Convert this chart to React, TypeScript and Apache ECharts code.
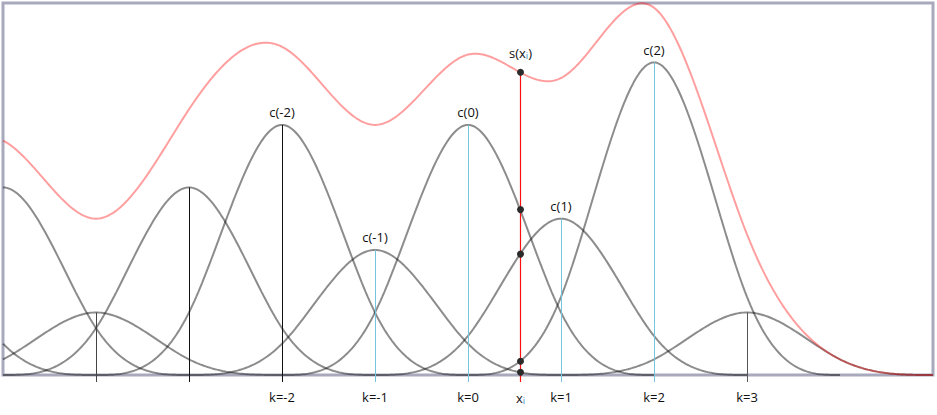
import React, { useEffect, useRef } from "react";
import * as echarts from "echarts";

// B-spline coefficients (peak heights of each scaled basis function)
const knots = [-6, -5, -4, -3, -2, -1, 0, 1, 2, 3];
const coeffs = [0.4, 0.6, 0.2, 0.6, 0.8, 0.4, 0.8, 0.5, 1.0, 0.2];
const tickKnots = [-2, -1, 0, 1, 2, 3];
const coeffLabelKnots = [-2, -1, 0, 1, 2];
const stemKnots = [-4, -3, -2, -1, 0, 1, 2, 3];
const sampleX = 0.56;
const xMin = -5;
const xMax = 5;
const yMax = 1.19;

// cubic B-spline normalised so that basis(0) = 1
function basis(t: number): number {
  const a = Math.abs(t);
  if (a >= 2) return 0;
  if (a >= 1) return Math.pow(2 - a, 3) / 4;
  return 1 - 1.5 * a * a + 0.75 * a * a * a;
}

const STEP = 0.02;
function range(a: number, b: number): number[] {
  const out: number[] = [];
  const n = Math.round((b - a) / STEP);
  for (let i = 0; i <= n; i++) out.push(a + i * STEP);
  return out;
}

function stemColor(k: number): string {
  if (k === -4) return "#444";
  if (k <= -2) return "#111";
  if (k === 3) return "#555";
  return "#74c6dc";
}

const FONT = "'Open Sans', 'DejaVu Sans', sans-serif";

export default function App() {
  const ref = useRef<HTMLDivElement>(null);
  useEffect(() => {
    if (!ref.current) return;
    const chart = echarts.init(ref.current, undefined, { renderer: "svg" });

    const basisSeries = knots.map((k, i) => ({
      type: "line",
      silent: true,
      showSymbol: false,
      smooth: false,
      clip: true,
      z: 2,
      lineStyle: { color: "rgba(0,0,0,0.45)", width: 2 },
      data: range(Math.max(k - 2, xMin), Math.min(k + 2, xMax)).map((x) => [
        x,
        coeffs[i] * basis(x - k),
      ]),
    }));

    const sumOf = (x: number) =>
      knots.reduce((s, k, i) => s + coeffs[i] * basis(x - k), 0);

    const sumSeries = {
      type: "line",
      silent: true,
      showSymbol: false,
      clip: true,
      z: 3,
      lineStyle: { color: "rgba(255,0,0,0.38)", width: 2 },
      data: range(xMin, xMax).map((x) => [x, sumOf(x)]),
    };

    const stemData = stemKnots.map((k) => [k, coeffs[knots.indexOf(k)]]);
    const stemSeries = {
      type: "custom",
      silent: true,
      z: 4,
      data: stemData,
      renderItem: (params: any, api: any) => {
        const k = api.value(0);
        const c = api.value(1);
        const top = api.coord([k, c]);
        const base = api.coord([k, 0]);
        const x = Math.round(top[0]) + 0.5;
        const children: any[] = [
          {
            type: "line",
            shape: { x1: x, y1: top[1], x2: x, y2: base[1] + 7 },
            style: { stroke: stemColor(k), lineWidth: 1 },
          },
        ];
        if (coeffLabelKnots.includes(k)) {
          children.push({
            type: "text",
            x: top[0],
            y: top[1] - 6,
            style: {
              text: "c(" + k + ")",
              fill: "#111",
              font: "13px " + FONT,
              textAlign: "center",
              textVerticalAlign: "bottom",
            },
          });
        }
        return { type: "group", children };
      },
    };

    const sampleData = [[sampleX, sumOf(sampleX)]];
    const richStyles = {
      a: { fontSize: 13, fontFamily: FONT, fill: "#111", color: "#111" },
      b: { fontSize: 9, fontFamily: FONT, fill: "#2a7fc0", color: "#2a7fc0", padding: [6, 0, 0, 0] },
    };
    const sampleSeries = {
      type: "custom",
      silent: true,
      z: 6,
      data: sampleData,
      renderItem: (params: any, api: any) => {
        const x0 = api.value(0);
        const s = api.value(1);
        const top = api.coord([x0, s]);
        const base = api.coord([x0, 0]);
        const lx = Math.round(top[0]) + 0.5;
        const children: any[] = [
          {
            type: "line",
            shape: { x1: lx, y1: top[1], x2: lx, y2: base[1] + 7 },
            style: { stroke: "#ff1010", lineWidth: 1.2 },
          },
        ];
        const ys = [s];
        knots.forEach((k, i) => {
          const v = coeffs[i] * basis(x0 - k);
          if (v > 0.001) ys.push(v);
        });
        ys.forEach((v) => {
          const p = api.coord([x0, v]);
          children.push({
            type: "circle",
            shape: { cx: lx, cy: p[1], r: 3.5 },
            style: { fill: "#2b2b2b" },
          });
        });
        children.push({
          type: "text",
          x: lx,
          y: top[1] - 12,
          style: {
            text: "{a|s(x}{b|i}{a|)}",
            textAlign: "center",
            textVerticalAlign: "bottom",
            rich: richStyles,
          },
        });
        children.push({
          type: "text",
          x: lx,
          y: base[1] + 15,
          style: {
            text: "{a|x}{b|i}",
            textAlign: "center",
            textVerticalAlign: "top",
            rich: richStyles,
          },
        });
        return { type: "group", children };
      },
    };

    chart.setOption({
      animation: false,
      backgroundColor: "#ffffff",
      grid: {
        left: 3,
        right: 4,
        top: 3,
        bottom: 40,
        show: true,
        borderColor: "#a9a9be",
        borderWidth: 3,
      },
      xAxis: {
        type: "value",
        min: xMin,
        max: xMax,
        interval: 1,
        axisLine: { show: false },
        axisTick: { show: false },
        splitLine: { show: false },
        axisLabel: {
          margin: 15,
          fontSize: 13,
          fontFamily: FONT,
          color: "#111",
          formatter: (v: number) =>
            tickKnots.includes(Math.round(v)) ? "k=" + Math.round(v) : "",
        },
      },
      yAxis: {
        type: "value",
        min: 0,
        max: yMax,
        show: false,
        splitLine: { show: false },
      },
      series: [...basisSeries, sumSeries, stemSeries, sampleSeries],
    });

    return () => chart.dispose();
  }, []);

  return (
    <div
      ref={ref}
      style={{ position: "fixed", left: 0, top: 0, width: 937, height: 415, background: "#fff" }}
    />
  );
}
